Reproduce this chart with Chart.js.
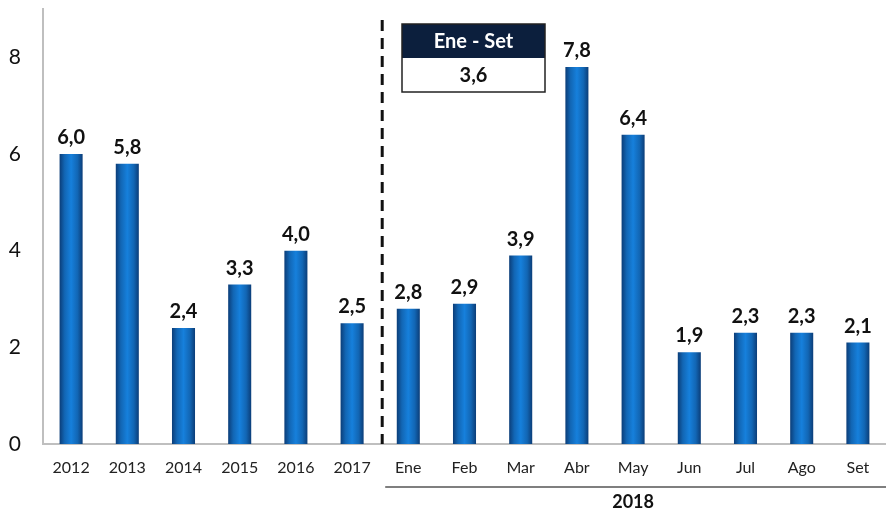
<!DOCTYPE html>
<html>
<head>
<meta charset="utf-8">
<script src="https://cdn.jsdelivr.net/npm/chart.js@4/dist/chart.umd.min.js"></script>
<style>
  html, body { margin: 0; padding: 0; background: #fff; }
  #wrap { width: 886px; height: 515px; position: relative; }
</style>
</head>
<body>
<div id="wrap"><canvas id="chart"></canvas></div>
<script>
// Chart data
const categories = ["2012", "2013", "2014", "2015", "2016", "2017",
  "Ene", "Feb", "Mar", "Abr", "May", "Jun", "Jul", "Ago", "Set"];
const values = [6.0, 5.8, 2.4, 3.3, 4.0, 2.5, 2.8, 2.9, 3.9, 7.8, 6.4, 1.9, 2.3, 2.3, 2.1];
const yTicks = [0, 2, 4, 6, 8];
const groupLabel = "2018";
const groupStart = 6; // first month index
const summaryTitle = "Ene - Set";
const summaryValue = 3.6;

const fmt = (v) => v.toFixed(1).replace(".", ",");
const BAR_PCT = 0.41;

// horizontal gradient for a cylinder look
const barFill = (ctx) => {
  const chart = ctx.chart;
  const xs = chart.scales.x;
  if (!xs || ctx.dataIndex === undefined) return "#1474c8";
  const cx = xs.getPixelForValue(ctx.dataIndex);
  const bw = (xs.width / categories.length) * BAR_PCT;
  if (!isFinite(cx) || !isFinite(bw) || bw <= 0) return "#1474c8";
  const g = chart.ctx.createLinearGradient(cx - bw / 2, 0, cx + bw / 2, 0);
  g.addColorStop(0, "#0b3d78");
  g.addColorStop(0.22, "#1266b4");
  g.addColorStop(0.5, "#1680dc");
  g.addColorStop(0.78, "#1266b4");
  g.addColorStop(1, "#0b3d78");
  return g;
};

// value labels above bars
const valueLabels = {
  id: "valueLabels",
  afterDatasetsDraw(chart) {
    const { ctx } = chart;
    const meta = chart.getDatasetMeta(0);
    ctx.save();
    ctx.fillStyle = "#111";
    ctx.font = "bold 20px Lato";
    ctx.textAlign = "center";
    ctx.textBaseline = "alphabetic";
    meta.data.forEach((bar, i) => {
      ctx.fillText(fmt(values[i]), bar.x, bar.y - 10);
    });
    ctx.restore();
  },
};

// dashed divider, summary box and group label
const extras = {
  id: "extras",
  afterDraw(chart) {
    const { ctx, chartArea } = chart;
    const xs = chart.scales.x;
    const divX = (xs.getPixelForValue(groupStart - 1) + xs.getPixelForValue(groupStart)) / 2 + 2;
    ctx.save();

    // dashed divider
    ctx.strokeStyle = "#111";
    ctx.lineWidth = 3;
    ctx.setLineDash([11, 7]);
    ctx.beginPath();
    ctx.moveTo(divX, 20);
    ctx.lineTo(divX, chartArea.bottom);
    ctx.stroke();
    ctx.setLineDash([]);

    // summary box
    const bx = 402, by = 24, bw = 143, hh = 34, bh = 68;
    ctx.fillStyle = "#0c1f3d";
    ctx.fillRect(bx, by, bw, hh);
    ctx.fillStyle = "#fff";
    ctx.fillRect(bx, by + hh, bw, bh - hh);
    ctx.strokeStyle = "#222";
    ctx.lineWidth = 1.5;
    ctx.strokeRect(bx, by, bw, bh);
    ctx.textAlign = "center";
    ctx.textBaseline = "middle";
    ctx.font = "bold 20px Lato";
    ctx.fillStyle = "#fff";
    ctx.fillText(summaryTitle, bx + bw / 2, by + hh / 2 + 1);
    ctx.fillStyle = "#111";
    ctx.fillText(fmt(summaryValue), bx + bw / 2, by + hh + (bh - hh) / 2 + 1);

    // group underline + label
    const gx0 = divX + 3;
    const gx1 = chart.width;
    ctx.strokeStyle = "#555";
    ctx.lineWidth = 1.5;
    ctx.beginPath();
    ctx.moveTo(gx0, 487);
    ctx.lineTo(gx1, 487);
    ctx.stroke();
    ctx.font = "bold 18px Lato";
    ctx.fillStyle = "#111";
    ctx.fillText(groupLabel, (xs.getPixelForValue(groupStart) + xs.getPixelForValue(categories.length - 1)) / 2, 502);

    ctx.restore();
  },
};

new Chart(document.getElementById("chart"), {
  type: "bar",
  data: {
    labels: categories,
    datasets: [{
      data: values,
      backgroundColor: barFill,
      borderWidth: 0,
      barPercentage: BAR_PCT,
      categoryPercentage: 1,
    }],
  },
  options: {
    responsive: true,
    maintainAspectRatio: false,
    animation: false,
    layout: { padding: { top: 9, right: 0, left: 0, bottom: 0 } },
    plugins: {
      legend: { display: false },
      tooltip: { enabled: false },
    },
    scales: {
      x: {
        grid: { display: false, drawTicks: false },
        border: { color: "#bfbfbf", width: 2 },
        ticks: {
          color: "#222",
          font: { family: "Lato", size: 16 },
          padding: 14,
          maxRotation: 0,
          autoSkip: false,
        },
        afterFit: (s) => { s.height = 71; },
      },
      y: {
        min: 0,
        max: 9,
        grid: { display: false, drawTicks: false },
        border: { color: "#bfbfbf", width: 2 },
        afterBuildTicks: (s) => { s.ticks = yTicks.map((v) => ({ value: v })); },
        ticks: {
          color: "#111",
          font: { family: "Lato", size: 21 },
          padding: 22,
        },
        afterFit: (s) => {
          s.width = 43;
          s.paddingTop = 0;
          s.paddingBottom = 0;
        },
      },
    },
  },
  plugins: [valueLabels, extras],
});
</script>
</body>
</html>
